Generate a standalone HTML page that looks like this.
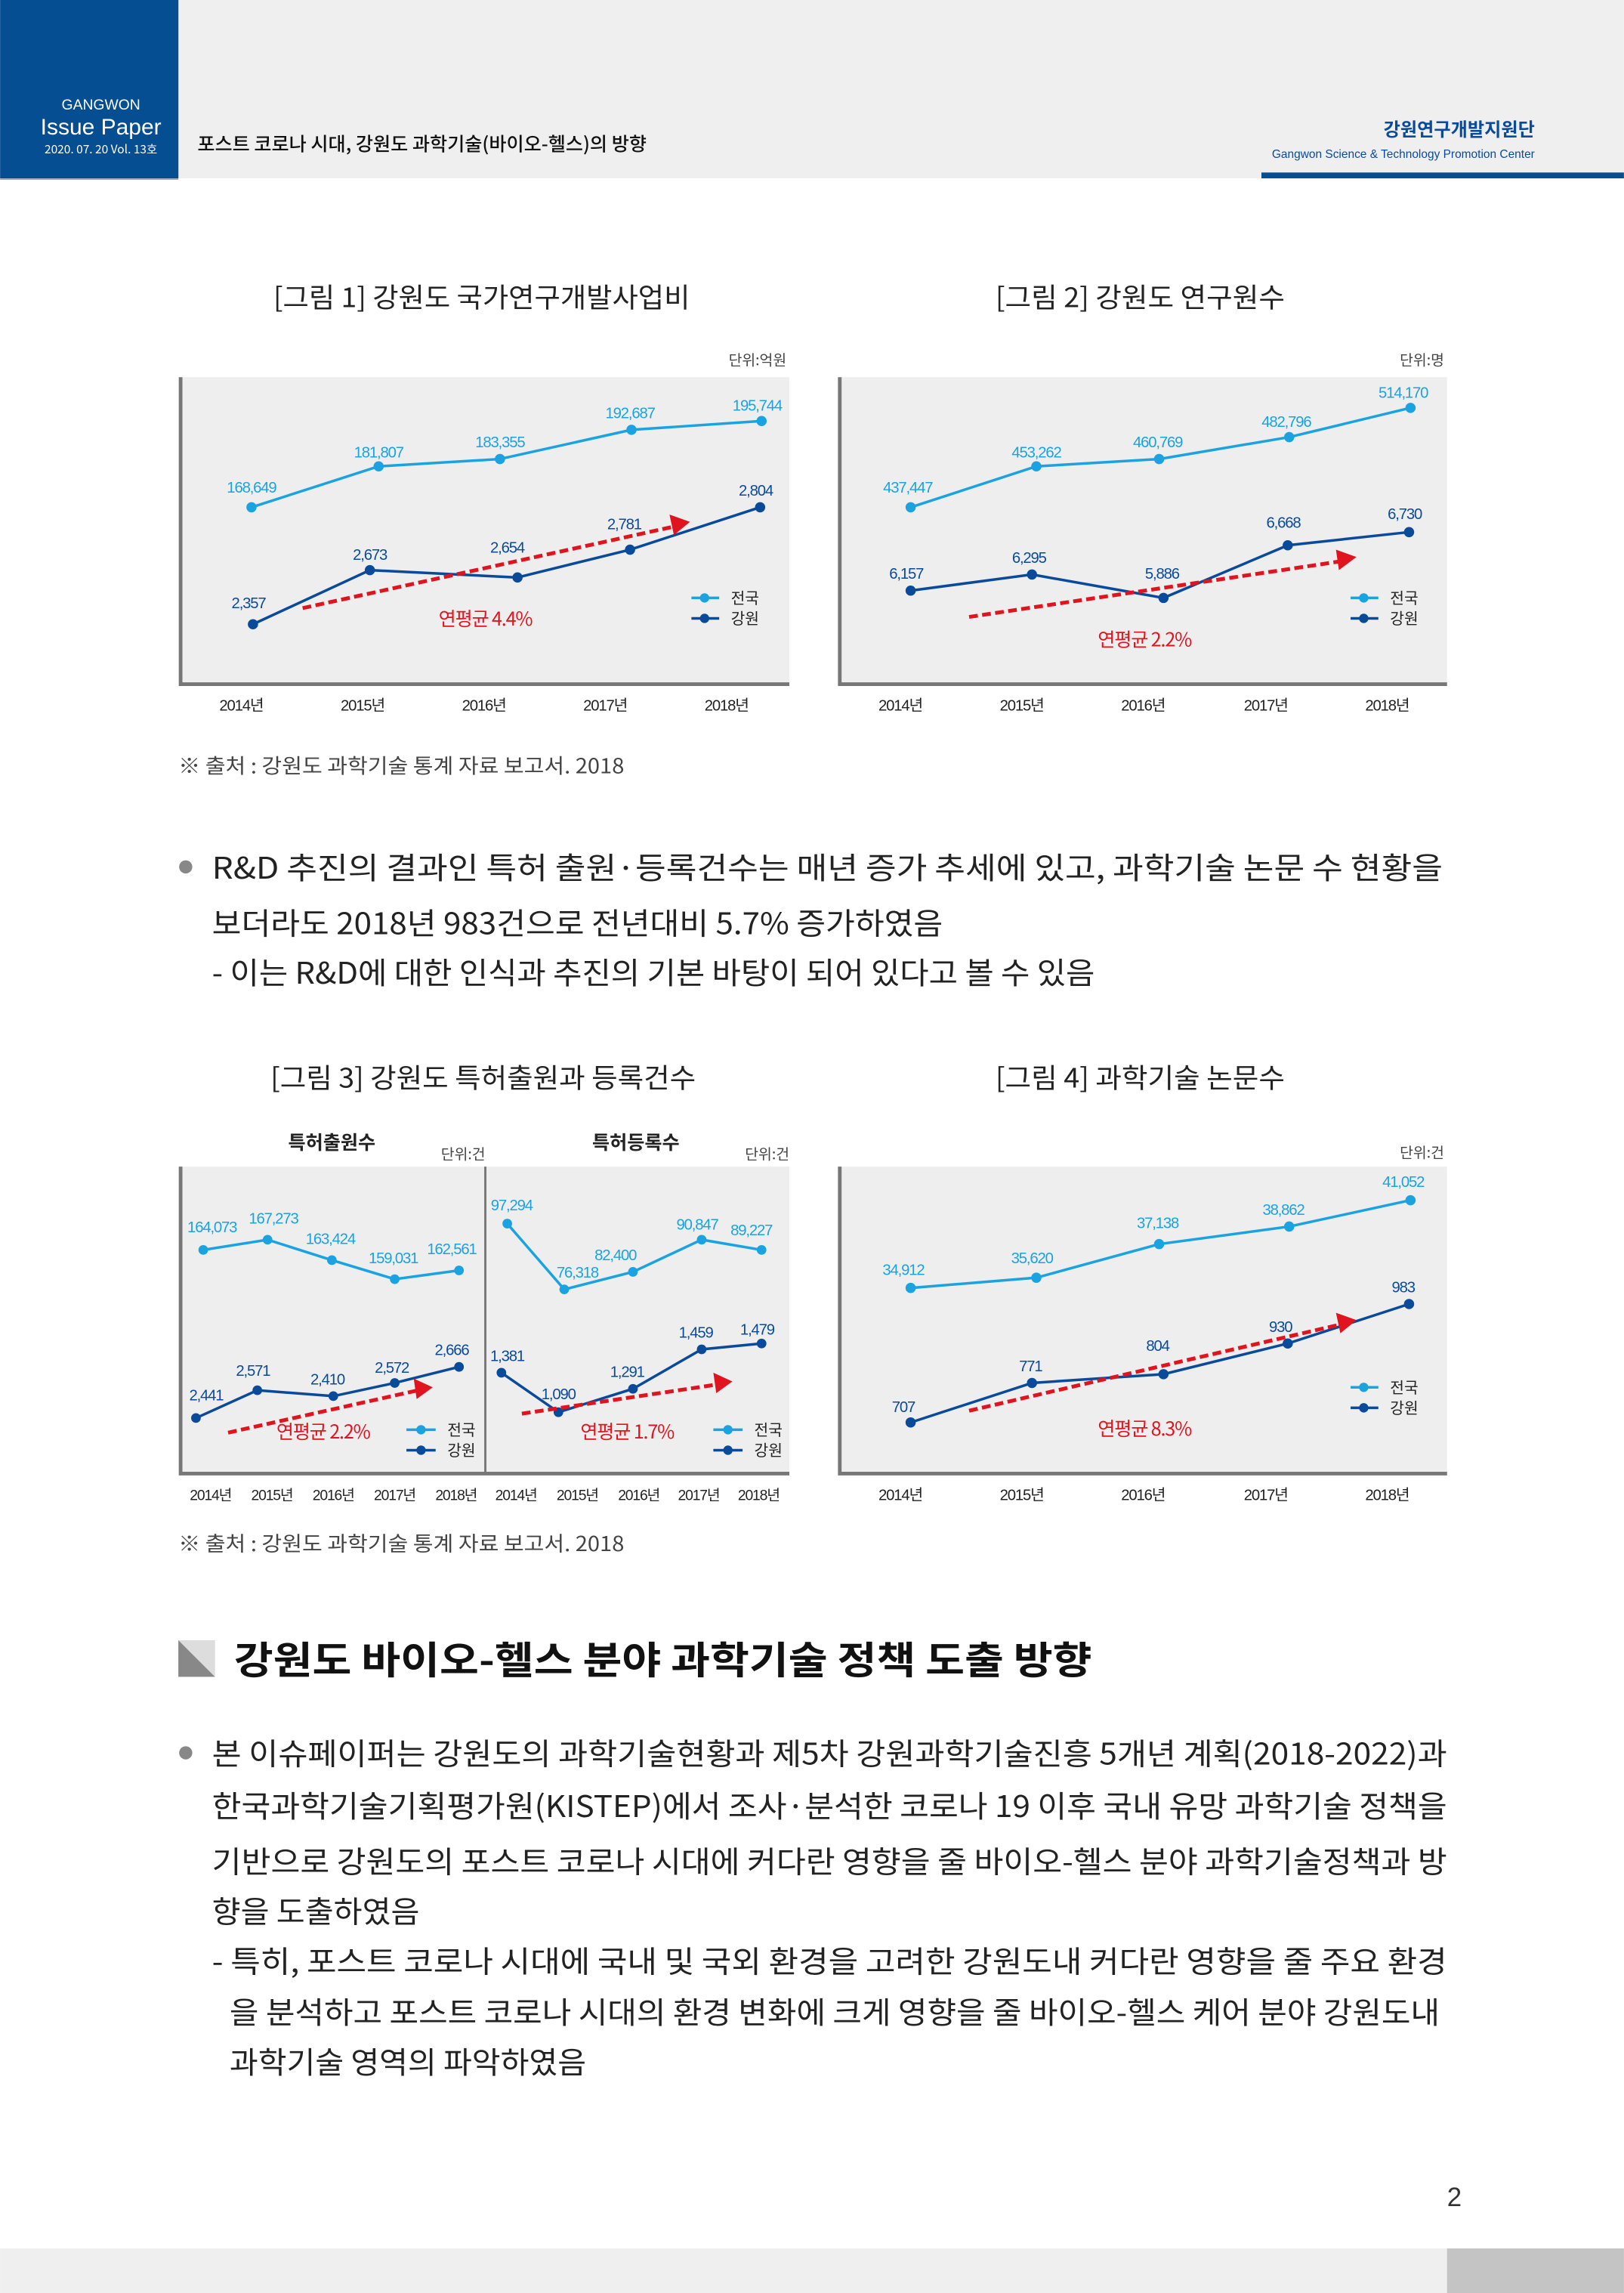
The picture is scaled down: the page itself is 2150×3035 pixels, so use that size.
<!DOCTYPE html>
<html><head><meta charset="utf-8"><style>
html,body{margin:0;padding:0;background:#fff}
svg{display:block}
text{font-family:"Liberation Sans","Noto Sans CJK KR",sans-serif}
.k{font-family:"Noto Sans CJK KR","Liberation Sans",sans-serif}
.c1{fill:#1aa3e0;font-size:10.5px;letter-spacing:-0.6px}
.c2{fill:#0a4a9a;font-size:10.5px;letter-spacing:-0.6px}
.yr{fill:#222;font-size:10.5px;letter-spacing:-0.6px}
.l1{stroke:#1aa3e0;stroke-width:1.8;fill:none}
.l2{stroke:#0a4a9a;stroke-width:1.8;fill:none}
.red{stroke:#e0141e;stroke-width:2.6;stroke-dasharray:6,3;fill:none}
.rt{fill:#e0141e;font-size:13px;letter-spacing:-0.6px}
.u{fill:#444;font-size:10px}
.ti{fill:#222;font-size:18.5px}
.body{fill:#222;font-size:20.5px}
</style></head><body>
<svg width="2150" height="3035" viewBox="0 0 1111 1568.5" xmlns="http://www.w3.org/2000/svg">
<!-- header -->
<rect x="0" y="0" width="1111" height="122" fill="#efefef"/>
<rect x="0" y="0" width="122" height="122" fill="#064e92"/>
<rect x="0" y="122" width="122" height="1" fill="#9ab"/>
<text x="69" y="75" fill="#fff" font-size="10" text-anchor="middle">GANGWON</text>
<text x="69" y="92" fill="#fff" font-size="15.5" text-anchor="middle">Issue Paper</text>
<text x="69" y="105" fill="#fff" font-size="8" text-anchor="middle" class="k">2020. 07. 20  Vol. 13호</text>
<text x="135" y="103" fill="#111" font-size="13" class="k" font-weight="500">포스트 코로나 시대, 강원도 과학기술(바이오-헬스)의 방향</text>
<text x="1050" y="93" fill="#0a4a9a" font-size="12.5" text-anchor="end" class="k" font-weight="700">강원연구개발지원단</text>
<text x="1050" y="108" fill="#0a4a9a" font-size="8" text-anchor="end">Gangwon Science &amp; Technology Promotion Center</text>
<rect x="863" y="118" width="248" height="4" fill="#064e92"/>

<!-- chart 1 -->
<text x="187" y="210" class="ti k" textLength="285" lengthAdjust="spacingAndGlyphs">[그림 1] 강원도 국가연구개발사업비</text>
<text x="538" y="250" class="u k" text-anchor="end">단위:억원</text>
<rect x="123" y="258" width="417" height="210" fill="#eeeeee"/>
<path d="M123.5 258V468H540" stroke="#777" stroke-width="2.5" fill="none"/>
<g class="yr k" text-anchor="middle"><text x="165" y="486">2014년</text><text x="248" y="486">2015년</text><text x="331" y="486">2016년</text><text x="414" y="486">2017년</text><text x="497" y="486">2018년</text></g>
<polyline class="l1" points="172,347 259,319 342,314 432,294 521,288"/>
<g fill="#1aa3e0"><circle cx="172" cy="347" r="3.5"/><circle cx="259" cy="319" r="3.5"/><circle cx="342" cy="314" r="3.5"/><circle cx="432" cy="294" r="3.5"/><circle cx="521" cy="288" r="3.5"/></g>
<g class="c1" text-anchor="middle"><text x="172" y="337">168,649</text><text x="259" y="313">181,807</text><text x="342" y="306">183,355</text><text x="431" y="286">192,687</text><text x="518" y="281">195,744</text></g>
<polyline class="l2" points="173,427 253,390 354,395 431,376 520,347"/>
<g fill="#0a4a9a"><circle cx="173" cy="427" r="3.5"/><circle cx="253" cy="390" r="3.5"/><circle cx="354" cy="395" r="3.5"/><circle cx="431" cy="376" r="3.5"/><circle cx="520" cy="347" r="3.5"/></g>
<g class="c2" text-anchor="middle"><text x="170" y="416">2,357</text><text x="253" y="383">2,673</text><text x="347" y="378">2,654</text><text x="427" y="362">2,781</text><text x="517" y="339">2,804</text></g>
<line class="red" x1="207" y1="416" x2="462" y2="360"/><polygon points="472,357 458,352 461,366" fill="#e0141e"/>
<text x="332" y="428" class="rt k" text-anchor="middle">연평균 4.4%</text>
<line x1="473" y1="409" x2="492" y2="409" class="l1"/><circle cx="482" cy="409" r="3.2" fill="#1aa3e0"/><text x="500" y="413" font-size="10.5" fill="#222" class="k">전국</text>
<line x1="473" y1="423" x2="492" y2="423" class="l2"/><circle cx="482" cy="423" r="3.2" fill="#0a4a9a"/><text x="500" y="427" font-size="10.5" fill="#222" class="k">강원</text>

<!-- chart 2 -->
<text x="681" y="210" class="ti k" textLength="198" lengthAdjust="spacingAndGlyphs">[그림 2] 강원도 연구원수</text>
<text x="988" y="250" class="u k" text-anchor="end">단위:명</text>
<rect x="574" y="258" width="416" height="210" fill="#eeeeee"/>
<path d="M574.5 258V468H990" stroke="#777" stroke-width="2.5" fill="none"/>
<g class="yr k" text-anchor="middle"><text x="616" y="486">2014년</text><text x="699" y="486">2015년</text><text x="782" y="486">2016년</text><text x="866" y="486">2017년</text><text x="949" y="486">2018년</text></g>
<polyline class="l1" points="623,347 709,319 793,314 882,299 965,279"/>
<g fill="#1aa3e0"><circle cx="623" cy="347" r="3.5"/><circle cx="709" cy="319" r="3.5"/><circle cx="793" cy="314" r="3.5"/><circle cx="882" cy="299" r="3.5"/><circle cx="965" cy="279" r="3.5"/></g>
<g class="c1" text-anchor="middle"><text x="621" y="337">437,447</text><text x="709" y="313">453,262</text><text x="792" y="306">460,769</text><text x="880" y="292">482,796</text><text x="960" y="272">514,170</text></g>
<polyline class="l2" points="623,404 706,393 796,409 881,373 964,364"/>
<g fill="#0a4a9a"><circle cx="623" cy="404" r="3.5"/><circle cx="706" cy="393" r="3.5"/><circle cx="796" cy="409" r="3.5"/><circle cx="881" cy="373" r="3.5"/><circle cx="964" cy="364" r="3.5"/></g>
<g class="c2" text-anchor="middle"><text x="620" y="396">6,157</text><text x="704" y="385">6,295</text><text x="795" y="396">5,886</text><text x="878" y="361">6,668</text><text x="961" y="355">6,730</text></g>
<line class="red" x1="663" y1="422" x2="917" y2="384"/><polygon points="928,381 914,376 916,390" fill="#e0141e"/>
<text x="783" y="442" class="rt k" text-anchor="middle">연평균 2.2%</text>
<line x1="924" y1="409" x2="943" y2="409" class="l1"/><circle cx="933" cy="409" r="3.2" fill="#1aa3e0"/><text x="951" y="413" font-size="10.5" fill="#222" class="k">전국</text>
<line x1="924" y1="423" x2="943" y2="423" class="l2"/><circle cx="933" cy="423" r="3.2" fill="#0a4a9a"/><text x="951" y="427" font-size="10.5" fill="#222" class="k">강원</text>

<text x="122" y="529" font-size="14" fill="#444" class="k" textLength="305" lengthAdjust="spacingAndGlyphs">※ 출처 : 강원도 과학기술 통계 자료 보고서. 2018</text>

<circle cx="127" cy="593" r="4.5" fill="#888"/>
<text x="145" y="601" class="body k" textLength="842" lengthAdjust="spacingAndGlyphs">R&amp;D 추진의 결과인 특허 출원·등록건수는 매년 증가 추세에 있고, 과학기술 논문 수 현황을</text>
<text x="145" y="639" class="body k" textLength="500" lengthAdjust="spacingAndGlyphs">보더라도 2018년 983건으로 전년대비 5.7% 증가하였음</text>
<text x="145" y="673" class="body k" textLength="604" lengthAdjust="spacingAndGlyphs">- 이는 R&amp;D에 대한 인식과 추진의 기본 바탕이 되어 있다고 볼 수 있음</text>

<!-- chart 3 -->
<text x="185" y="744" class="ti k" textLength="291" lengthAdjust="spacingAndGlyphs">[그림 3] 강원도 특허출원과 등록건수</text>
<text x="227" y="786" font-size="13" font-weight="700" fill="#222" text-anchor="middle" class="k">특허출원수</text>
<text x="435" y="786" font-size="13" font-weight="700" fill="#222" text-anchor="middle" class="k">특허등록수</text>
<text x="332" y="793" class="u k" text-anchor="end">단위:건</text>
<text x="540" y="793" class="u k" text-anchor="end">단위:건</text>
<rect x="123" y="798" width="417" height="210" fill="#eeeeee"/>
<path d="M123.5 798V1008H540" stroke="#777" stroke-width="2.5" fill="none"/>
<line x1="332" y1="798" x2="332" y2="1008" stroke="#777" stroke-width="1.5"/>
<g class="yr k" text-anchor="middle" style="font-size:10px"><text x="144" y="1026">2014년</text><text x="186" y="1026">2015년</text><text x="228" y="1026">2016년</text><text x="270" y="1026">2017년</text><text x="312" y="1026">2018년</text><text x="353" y="1026">2014년</text><text x="395" y="1026">2015년</text><text x="437" y="1026">2016년</text><text x="478" y="1026">2017년</text><text x="519" y="1026">2018년</text></g>
<polyline class="l1" points="139,855 183,848 227,862 270,875 314,869"/>
<g fill="#1aa3e0"><circle cx="139" cy="855" r="3.3"/><circle cx="183" cy="848" r="3.3"/><circle cx="227" cy="862" r="3.3"/><circle cx="270" cy="875" r="3.3"/><circle cx="314" cy="869" r="3.3"/></g>
<g class="c1" text-anchor="middle"><text x="145" y="843">164,073</text><text x="187" y="837">167,273</text><text x="226" y="851">163,424</text><text x="269" y="864">159,031</text><text x="309" y="858">162,561</text></g>
<polyline class="l2" points="134,970 176,951 228,955 270,946 314,935"/>
<g fill="#0a4a9a"><circle cx="134" cy="970" r="3.3"/><circle cx="176" cy="951" r="3.3"/><circle cx="228" cy="955" r="3.3"/><circle cx="270" cy="946" r="3.3"/><circle cx="314" cy="935" r="3.3"/></g>
<g class="c2" text-anchor="middle"><text x="141" y="958">2,441</text><text x="173" y="941">2,571</text><text x="224" y="947">2,410</text><text x="268" y="939">2,572</text><text x="309" y="927">2,666</text></g>
<line class="red" x1="156" y1="980" x2="286" y2="951"/><polygon points="296,949 283,943 285,957" fill="#e0141e"/>
<text x="221" y="984" class="rt k" text-anchor="middle">연평균 2.2%</text>
<line x1="278" y1="978" x2="298" y2="978" class="l1"/><circle cx="288" cy="978" r="3.2" fill="#1aa3e0"/><text x="306" y="982" font-size="10.5" fill="#222" class="k">전국</text>
<line x1="278" y1="992" x2="298" y2="992" class="l2"/><circle cx="288" cy="992" r="3.2" fill="#0a4a9a"/><text x="306" y="996" font-size="10.5" fill="#222" class="k">강원</text>
<polyline class="l1" points="347,837 386,882 433,870 480,848 521,855"/>
<g fill="#1aa3e0"><circle cx="347" cy="837" r="3.3"/><circle cx="386" cy="882" r="3.3"/><circle cx="433" cy="870" r="3.3"/><circle cx="480" cy="848" r="3.3"/><circle cx="521" cy="855" r="3.3"/></g>
<g class="c1" text-anchor="middle"><text x="350" y="828">97,294</text><text x="395" y="874">76,318</text><text x="421" y="862">82,400</text><text x="477" y="841">90,847</text><text x="514" y="845">89,227</text></g>
<polyline class="l2" points="343,939 382,966 433,950 480,923 521,919"/>
<g fill="#0a4a9a"><circle cx="343" cy="939" r="3.3"/><circle cx="382" cy="966" r="3.3"/><circle cx="433" cy="950" r="3.3"/><circle cx="480" cy="923" r="3.3"/><circle cx="521" cy="919" r="3.3"/></g>
<g class="c2" text-anchor="middle"><text x="347" y="931">1,381</text><text x="382" y="957">1,090</text><text x="429" y="942">1,291</text><text x="476" y="915">1,459</text><text x="518" y="913">1,479</text></g>
<line class="red" x1="357" y1="967" x2="491" y2="947"/><polygon points="501,945 488,939 490,953" fill="#e0141e"/>
<text x="429" y="984" class="rt k" text-anchor="middle">연평균 1.7%</text>
<line x1="488" y1="978" x2="508" y2="978" class="l1"/><circle cx="498" cy="978" r="3.2" fill="#1aa3e0"/><text x="516" y="982" font-size="10.5" fill="#222" class="k">전국</text>
<line x1="488" y1="992" x2="508" y2="992" class="l2"/><circle cx="498" cy="992" r="3.2" fill="#0a4a9a"/><text x="516" y="996" font-size="10.5" fill="#222" class="k">강원</text>

<!-- chart 4 -->
<text x="681" y="744" class="ti k" textLength="198" lengthAdjust="spacingAndGlyphs">[그림 4] 과학기술 논문수</text>
<text x="988" y="792" class="u k" text-anchor="end">단위:건</text>
<rect x="574" y="798" width="416" height="210" fill="#eeeeee"/>
<path d="M574.5 798V1008H990" stroke="#777" stroke-width="2.5" fill="none"/>
<g class="yr k" text-anchor="middle"><text x="616" y="1026">2014년</text><text x="699" y="1026">2015년</text><text x="782" y="1026">2016년</text><text x="866" y="1026">2017년</text><text x="949" y="1026">2018년</text></g>
<polyline class="l1" points="623,881 709,874 793,851 882,839 965,821"/>
<g fill="#1aa3e0"><circle cx="623" cy="881" r="3.5"/><circle cx="709" cy="874" r="3.5"/><circle cx="793" cy="851" r="3.5"/><circle cx="882" cy="839" r="3.5"/><circle cx="965" cy="821" r="3.5"/></g>
<g class="c1" text-anchor="middle"><text x="618" y="872">34,912</text><text x="706" y="864">35,620</text><text x="792" y="840">37,138</text><text x="878" y="831">38,862</text><text x="960" y="812">41,052</text></g>
<polyline class="l2" points="623,973 706,946 796,940 881,919 964,892"/>
<g fill="#0a4a9a"><circle cx="623" cy="973" r="3.5"/><circle cx="706" cy="946" r="3.5"/><circle cx="796" cy="940" r="3.5"/><circle cx="881" cy="919" r="3.5"/><circle cx="964" cy="892" r="3.5"/></g>
<g class="c2" text-anchor="middle"><text x="618" y="966">707</text><text x="705" y="938">771</text><text x="792" y="924">804</text><text x="876" y="911">930</text><text x="960" y="884">983</text></g>
<line class="red" x1="663" y1="965" x2="917" y2="906"/><polygon points="928,903 914,898 917,912" fill="#e0141e"/>
<text x="783" y="982" class="rt k" text-anchor="middle">연평균 8.3%</text>
<line x1="924" y1="949" x2="943" y2="949" class="l1"/><circle cx="933" cy="949" r="3.2" fill="#1aa3e0"/><text x="951" y="953" font-size="10.5" fill="#222" class="k">전국</text>
<line x1="924" y1="963" x2="943" y2="963" class="l2"/><circle cx="933" cy="963" r="3.2" fill="#0a4a9a"/><text x="951" y="967" font-size="10.5" fill="#222" class="k">강원</text>

<text x="122" y="1061" font-size="14" fill="#444" class="k" textLength="305" lengthAdjust="spacingAndGlyphs">※ 출처 : 강원도 과학기술 통계 자료 보고서. 2018</text>

<!-- section -->
<rect x="122" y="1122" width="25" height="25" fill="#bbb"/>
<polygon points="122,1122 147,1147 122,1147" fill="#888"/>
<polygon points="122,1122 147,1122 147,1147" fill="#ddd"/>
<text x="160" y="1145" font-size="26" font-weight="700" fill="#111" class="k" textLength="587" lengthAdjust="spacingAndGlyphs">강원도 바이오-헬스 분야 과학기술 정책 도출 방향</text>

<circle cx="127" cy="1199" r="4.5" fill="#888"/>
<text x="145" y="1207" class="body k" textLength="845" lengthAdjust="spacingAndGlyphs">본 이슈페이퍼는 강원도의 과학기술현황과 제5차 강원과학기술진흥 5개년 계획(2018-2022)과</text>
<text x="145" y="1243" class="body k" textLength="845" lengthAdjust="spacingAndGlyphs">한국과학기술기획평가원(KISTEP)에서 조사·분석한 코로나 19 이후 국내 유망 과학기술 정책을</text>
<text x="145" y="1281" class="body k" textLength="845" lengthAdjust="spacingAndGlyphs">기반으로 강원도의 포스트 코로나 시대에 커다란 영향을 줄 바이오-헬스 분야 과학기술정책과 방</text>
<text x="145" y="1315" class="body k" textLength="142" lengthAdjust="spacingAndGlyphs">향을 도출하였음</text>
<text x="145" y="1349" class="body k" textLength="845" lengthAdjust="spacingAndGlyphs">- 특히, 포스트 코로나 시대에 국내 및 국외 환경을 고려한 강원도내 커다란 영향을 줄 주요 환경</text>
<text x="157" y="1384" class="body k" textLength="828" lengthAdjust="spacingAndGlyphs">을 분석하고 포스트 코로나 시대의 환경 변화에 크게 영향을 줄 바이오-헬스 케어 분야 강원도내</text>
<text x="157" y="1418" class="body k" textLength="244" lengthAdjust="spacingAndGlyphs">과학기술 영역의 파악하였음</text>

<text x="1000" y="1509" font-size="18" fill="#333" text-anchor="end">2</text>
<rect x="0" y="1538" width="1111" height="31" fill="#efefef"/>
<rect x="990" y="1538" width="121" height="31" fill="#c4c4c4"/>
</svg>
</body></html>
